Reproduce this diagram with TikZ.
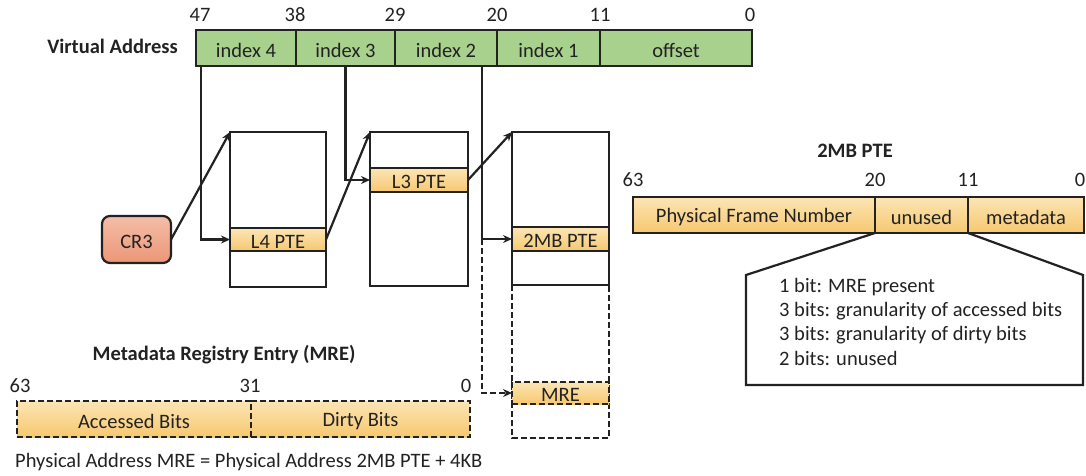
\documentclass[tikz,border=0pt]{standalone}
\usepackage{fontspec}
\setmainfont{Carlito}
\usetikzlibrary{fit,arrows.meta,calc}
\definecolor{ln}{RGB}{34,34,34}
\definecolor{grn}{RGB}{169,209,142}
\definecolor{ortop}{RGB}{252,229,180}
\definecolor{orbot}{RGB}{246,200,112}
\definecolor{crtop}{RGB}{244,190,168}
\definecolor{crbot}{RGB}{236,150,118}
\begin{document}
\begin{tikzpicture}[x=1pt,y=-1pt,
  font=\fontsize{20.5}{24}\selectfont, text=ln,
  fld/.style={draw=ln, line width=2.2pt, inner sep=0pt, outer sep=0pt},
  gfld/.style={fld, fill=grn},
  ofld/.style={fld, top color=ortop, bottom color=orbot},
  tbl/.style={fld, fill=white},
  dsh/.style={dash pattern=on 6pt off 3pt},
  arr/.style={draw=ln, line width=2.2pt, -{Stealth[length=9pt,width=8pt]}},
  num/.style={inner sep=0pt},
  lbl/.style={label={[inner sep=0pt, yshift=-2pt]center:#1}},
  ttl/.style={font=\fontsize{20.5}{24}\selectfont\bfseries, inner sep=0pt},
  txt/.style={inner sep=0pt, anchor=base west}]
\useasboundingbox (0,0) rectangle (1086,475);

% Virtual address
\node[ttl, anchor=east] (va) at (178,46) {Virtual Address};
\node[gfld, fit={(196,30)(296,66)}, lbl={index 4}] (f4) {};
\node[gfld, fit={(296,30)(395,66)}, lbl={index 3}] (f3) {};
\node[gfld, fit={(395,30)(497,66)}, lbl={index 2}] (f2) {};
\node[gfld, fit={(497,30)(600,66)}, lbl={index 1}] (f1) {};
\node[gfld, fit={(600,30)(752,66)}, lbl={offset}] (f0) {};
\node[num] (b47) at (200,15) {47};
\node[num] (b38) at (295,15) {38};
\node[num] (b29) at (395,15) {29};
\node[num] (b20) at (497,15) {20};
\node[num] (b11) at (600,15) {11};
\node[num] (b0) at (750,15) {0};

% tables
\node[tbl, fit={(230,132)(326,287)}] (t4) {};
\node[ofld, fit={(230,228)(326,251)}, lbl={L4 PTE}] (p4) {};
\node[tbl, fit={(370,132)(468,286)}] (t3) {};
\node[ofld, fit={(370,168)(468,192)}, lbl={L3 PTE}] (p3) {};
\node[tbl, fit={(512,132)(609,285)}] (t2) {};
\node[ofld, fit={(512,227)(609,251)}, lbl={2MB PTE}] (p2) {};
\coordinate (e1) at (512,438);
\coordinate (e2) at (609,438);
\draw[ln, line width=2.2pt, dsh] (t2.south west) -- (e1) -- (e2) -- (t2.south east);
\node[ofld, dsh, fit={(512,382)(609,404)}, lbl={MRE}] (mre) {};

% CR3
\node[fld, rounded corners=8pt, top color=crtop, bottom color=crbot, fit={(102,216)(171,263)}, lbl={CR3}] (cr3) {};

% connectors
\draw[arr] (cr3.east) -- (t4.north west);
\draw[arr] ($(f4.south west)+(5,0)$) |- (p4.west);
\draw[arr] (p4.east) -- (t3.north west);
\draw[arr] (f3.south) |- (p3.west);
\draw[arr] (p3.east) -- (t2.north west);
\coordinate (c2) at ($(f2.south east)+(-15,0)$);
\draw[arr] (c2) |- (p2.west);
\draw[arr, dsh] (c2 |- p2.west) |- (mre.west);

% 2MB PTE register
\node[ttl] (t2mb) at (855,151) {2MB PTE};
\node[ofld, fit={(633,197)(875,233)}, lbl={Physical Frame Number}] (pfn) {};
\node[ofld, fit={(875,197)(968,233)}, lbl={unused}] (unu) {};
\node[ofld, fit={(968,197)(1084,233)}, lbl={metadata}] (meta) {};
\node[num] (r63) at (633,180) {63};
\node[num] (r20) at (875,180) {20};
\node[num] (r11) at (968,180) {11};
\node[num] (r0) at (1080,180) {0};
\coordinate (cl1) at (746,275);
\coordinate (cl2) at (746,385);
\coordinate (cl3) at (1083,385);
\coordinate (cl4) at (1083,275);
\draw[ln, line width=2.2pt, line join=miter] (pfn.south east) -- (cl1) -- (cl2) -- (cl3) -- (cl4) -- (meta.south west);
\node[txt] (m1) at (779,292) {1 bit: MRE present};
\node[txt] (m2) at (779,316) {3 bits: granularity of accessed bits};
\node[txt] (m3) at (779,340.5) {3 bits: granularity of dirty bits};
\node[txt] (m4) at (779,365) {2 bits: unused};

% MRE register
\node[ttl] (mtt) at (224,355) {Metadata Registry Entry (MRE)};
\node[ofld, dsh, fit={(17,401)(251,437)}, lbl={Accessed Bits}] (acc) {};
\node[ofld, dsh, fit={(251,401)(470,437)}, lbl={Dirty Bits}] (dir) {};
\node[num] (m63) at (20,386) {63};
\node[num] (m31) at (250,386) {31};
\node[num] (m0) at (466,386) {0};
\node[inner sep=0pt, anchor=west] (eq) at (15,462) {Physical Address MRE = Physical Address 2MB PTE + 4KB};
\end{tikzpicture}
\end{document}
